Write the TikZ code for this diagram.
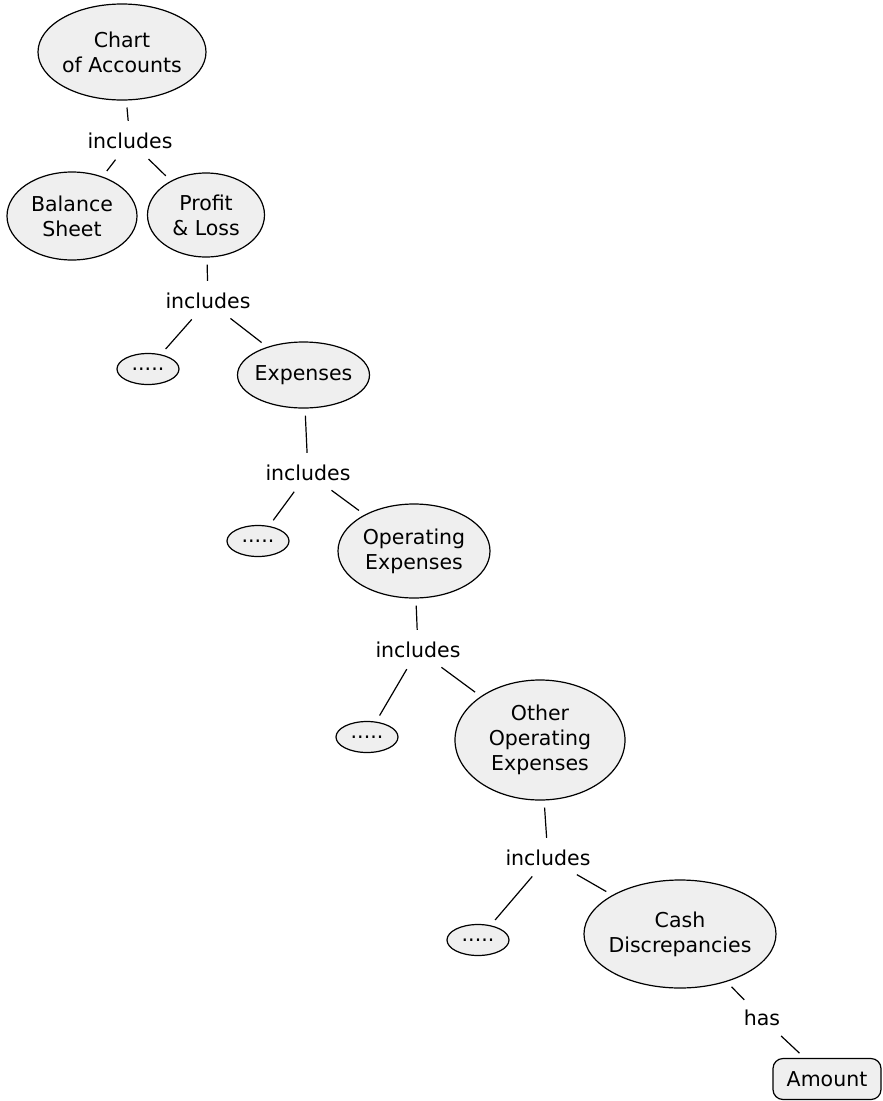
\documentclass[tikz,border=0pt]{standalone}
\usepackage{fontspec}
\setmainfont{DejaVu Sans}
\usetikzlibrary{shapes.geometric}
\definecolor{nodefill}{HTML}{EFEFEF}
\begin{document}
\begin{tikzpicture}[x=1pt,y=-1pt,
  every node/.style={font=\fontsize{20.5}{25}\selectfont},
  concept/.style={ellipse,draw,line width=1.2pt,fill=nodefill,inner sep=-5pt,align=center},
  more/.style={concept,inner sep=0pt,minimum width=62pt,minimum height=31pt},
  leaf/.style={draw,line width=1.2pt,fill=nodefill,rounded corners=10pt,inner sep=0pt,
    minimum width=108pt,minimum height=41pt},
  rel/.style={inner sep=5pt},
  link/.style={line width=1.2pt,shorten <=7pt,shorten >=7pt}]
\useasboundingbox (0,0) rectangle (883,1101);

% concepts
\node[concept,minimum width=168pt,minimum height=96pt] (coa) at (122,52) {Chart\\of Accounts};
\node[concept,minimum width=130pt,minimum height=88pt] (bs) at (72,216) {Balance\\Sheet};
\node[concept,minimum width=117pt,minimum height=84pt] (pl) at (206,215) {Profit\\\& Loss};
\node[more] (m1) at (148,369) {.....};
\node[concept,minimum width=132pt,minimum height=66pt] (exp) at (303.5,375) {Expenses};
\node[more] (m2) at (258,541) {.....};
\node[concept,minimum width=152pt,minimum height=94pt] (opx) at (414,551) {Operating\\Expenses};
\node[more] (m3) at (367,737) {.....};
\node[concept,minimum width=170pt,minimum height=120pt] (oox) at (540,740) {Other\\Operating\\Expenses};
\node[more] (m4) at (478,940) {.....};
\node[concept,minimum width=192pt,minimum height=108pt] (cash) at (680,934) {Cash\\Discrepancies};
\node[leaf] (amt) at (827,1079) {Amount};

% linking phrases
\node[rel] (i1) at (130,141) {includes};
\node[rel] (i2) at (208,301) {includes};
\node[rel] (i3) at (308,473) {includes};
\node[rel] (i4) at (418,650) {includes};
\node[rel] (i5) at (548,858) {includes};
\node[rel] (h1) at (762,1018) {has};

% connectors
\draw[link] (coa) -- (i1);
\draw[link] (i1) -- (bs);
\draw[link] (i1) -- (pl);
\draw[link] (pl) -- (i2);
\draw[link] (i2) -- (m1);
\draw[link] (i2) -- (exp);
\draw[link] (exp) -- (i3);
\draw[link] (i3) -- (m2);
\draw[link] (i3) -- (opx);
\draw[link] (opx) -- (i4);
\draw[link] (i4) -- (m3);
\draw[link] (i4) -- (oox);
\draw[link] (oox) -- (i5);
\draw[link] (i5) -- (m4);
\draw[link] (i5) -- (cash);
\draw[link] (cash) -- (h1);
\draw[link] (h1) -- (amt);
\end{tikzpicture}
\end{document}
